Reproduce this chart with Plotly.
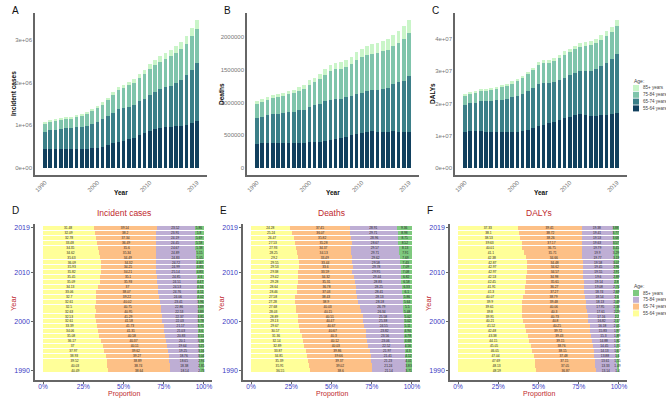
import plotly.graph_objects as go

years = list(range(1990, 2020))
ages = ["55-64 years", "65-74 years", "75-84 years", "85+ years"]

# totals
total_inc = [1.08, 1.12, 1.14, 1.16, 1.20, 1.20, 1.24, 1.27, 1.31, 1.38, 1.46, 1.54, 1.65, 1.77, 1.89,
             1.95, 2.02, 2.09, 2.20, 2.30, 2.43, 2.54, 2.62, 2.69, 2.76, 2.85, 2.95, 3.09, 3.28, 3.47]  # 1e6
total_dea = [1.02, 1.05, 1.08, 1.11, 1.13, 1.15, 1.18, 1.20, 1.24, 1.27, 1.34, 1.38, 1.44, 1.51, 1.57,
             1.61, 1.62, 1.65, 1.70, 1.77, 1.82, 1.86, 1.89, 1.91, 1.94, 1.97, 2.04, 2.10, 2.17, 2.27]  # 1e6
total_daly = [2.29, 2.35, 2.39, 2.44, 2.45, 2.47, 2.52, 2.56, 2.60, 2.68, 2.77, 2.86, 2.98, 3.10, 3.27,
              3.33, 3.34, 3.40, 3.49, 3.61, 3.70, 3.79, 3.87, 3.89, 3.93, 4.00, 4.11, 4.23, 4.38, 4.59]  # 1e7

# age shares (%)
inc_5564 = [40.49, 40.03, 39.52, 38.93, 37.97, 37.0, 36.17, 35.08, 34.06, 33.39, 32.61, 32.53, 32.63, 32.5, 32.61,
            32.7, 33.06, 34.13, 35.09, 35.45, 35.82, 35.93, 36.09, 35.63, 34.62, 34.35, 33.48, 32.78, 32.09, 31.48]
inc_6574 = [38.64, 38.74, 38.89, 39.27, 39.62, 40.11, 40.37, 40.58, 41.31, 41.73, 41.58, 41.29, 40.95, 40.75, 40.02,
            39.22, 38.07, 37.0, 35.93, 35.1, 34.21, 34.25, 34.32, 34.49, 35.34, 35.6, 36.49, 37.34, 38.2, 39.14]
inc_7584 = [18.14, 18.38, 18.65, 18.76, 19.25, 19.64, 20.1, 20.83, 21.03, 21.17, 22.03, 22.37, 22.53, 22.86, 23.41,
            24.06, 24.76, 24.53, 24.51, 24.85, 25.14, 24.99, 24.72, 24.83, 24.89, 24.67, 24.45, 24.19, 23.91, 23.52]
inc_85 = [2.73, 2.85, 2.94, 3.04, 3.16, 3.25, 3.36, 3.51, 3.6, 3.71, 3.78, 3.81, 3.89, 3.89, 3.96,
          4.02, 4.11, 4.34, 4.47, 4.6, 4.83, 4.83, 4.87, 5.05, 5.15, 5.38, 5.58, 5.69, 5.8, 5.86]

dea_5564 = [36.55, 35.91, 35.39, 34.81, 33.87, 32.89, 32.14, 31.36, 30.57, 29.67, 29.13, 28.89, 28.03, 27.68, 27.28,
            27.58, 28.46, 28.64, 29.28, 29.42, 29.38, 29.53, 29.55, 29.2, 28.25, 27.93, 27.53, 26.47, 25.24, 24.28]
dea_6574 = [38.6, 39.02, 39.37, 39.66, 39.86, 40.03, 40.12, 40.3, 40.67, 40.67, 40.47, 40.51, 40.15, 40.03, 38.9,
            38.43, 37.03, 36.78, 35.31, 34.32, 33.59, 33.6, 33.44, 33.49, 34.13, 34.37, 35.28, 35.82, 36.07, 37.45]
dea_7584 = [21.14, 21.24, 21.23, 21.41, 21.97, 22.52, 23.06, 23.56, 23.82, 24.55, 25.38, 25.58, 26.34, 26.79, 28.18,
            28.13, 28.41, 28.25, 28.83, 29.44, 29.95, 29.78, 29.58, 29.62, 29.71, 29.57, 28.67, 28.96, 29.71, 28.91]
dea_85 = [3.71, 3.83, 4.01, 4.12, 4.3, 4.56, 4.68, 4.78, 4.94, 5.11, 5.02, 5.02, 5.48, 5.5, 5.64,
          5.86, 6.1, 6.33, 6.58, 6.82, 7.08, 7.09, 7.43, 7.69, 7.91, 8.13, 8.52, 8.75, 8.98, 9.36]

daly_5564 = [48.59, 48.13, 47.69, 47.04, 46.05, 45.05, 44.15, 43.38, 42.48, 41.52, 40.21, 39.91, 39.8, 39.61, 39.9,
             40.07, 41.3, 41.91, 42.45, 42.53, 42.97, 42.97, 42.87, 42.38, 41.1, 40.01, 39.63, 38.53, 38.1, 37.33]
daly_6574 = [36.87, 37.05, 37.15, 37.48, 38.15, 38.76, 39.15, 39.43, 39.72, 40.25, 40.8, 40.73, 40.3, 40.06, 39.48,
             38.79, 37.27, 36.27, 35.61, 34.98, 34.57, 34.62, 34.48, 34.66, 35.71, 36.75, 37.17, 38.26, 38.72, 39.41]
daly_7584 = [13.14, 13.33, 13.61, 13.88, 14.13, 14.45, 14.88, 15.3, 15.83, 16.18, 16.82, 17.16, 17.61, 17.95, 18.13,
             18.54, 18.74, 19.08, 19.14, 19.6, 19.55, 19.45, 19.58, 19.77, 19.9, 19.79, 19.63, 19.53, 19.41, 19.38]
daly_85 = [1.4, 1.49, 1.55, 1.6, 1.67, 1.74, 1.82, 1.89, 1.97, 2.05, 2.17, 2.2, 2.29, 2.38, 2.49,
           2.6, 2.69, 2.74, 2.8, 2.89, 2.91, 2.96, 3.07, 3.19, 3.29, 3.45, 3.57, 3.68, 3.77, 3.88]

top_colors = ["#11405e", "#3b7f88", "#7fc4ab", "#c9f5c8"]
bot_colors = ["#ffff99", "#fdc086", "#beaed4", "#7fc97f"]

measures = [
    ("Incident cases", total_inc, 1e6, [inc_5564, inc_6574, inc_7584, inc_85]),
    ("Deaths", total_dea, 1e6, [dea_5564, dea_6574, dea_7584, dea_85]),
    ("DALYs", total_daly, 1e7, [daly_5564, daly_6574, daly_7584, daly_85]),
]

W, H = 666, 400
FONT = "Liberation Sans, Arial, sans-serif"
BLUE = "#3a3ac4"
RED = "#c0282d"


def px(x):
    return x / W


def py(y):
    return 1 - y / H


def fmt(v):
    return ("%.2f" % v).rstrip("0").rstrip(".")


def note(text, x, y, size, color="#111", angle=0, anchor="center"):
    fig.add_annotation(text=text, x=px(x), y=py(y), xref="paper", yref="paper", showarrow=False,
                       textangle=angle, xanchor=anchor, yanchor="middle",
                       font=dict(size=size, color=color, family=FONT))


fig = go.Figure()

# pixel boxes (left, right) of the panels
top_box = [(35, 207), (247, 419), (455, 627)]
bot_box = [(35, 212), (243, 420), (450, 627)]
top_yrng = [(-0.164e6, 3.63e6), (-0.107e6, 2.37e6), (-0.217e7, 4.8e7)]
top_ticks = [([0, 1e6, 2e6, 3e6], ["0e+00", "1e+06", "2e+06", "3e+06"]),
             ([0, 5e5, 1e6, 1.5e6, 2e6], ["0", "500000", "1000000", "1500000", "2000000"]),
             ([0, 1e7, 2e7, 3e7, 4e7], ["0e+00", "1e+07", "2e+07", "3e+07", "4e+07"])]
ytitle_x = [13, 221, 432]
letters_top = ["A", "B", "C"]
letters_bot = ["D", "E", "F"]

axis_line = dict(showline=True, linecolor="#666", linewidth=1.5, showgrid=False, zeroline=False)

for i, (name, totals, unit, shares) in enumerate(measures):
    n_top = i + 1
    n_bot = i + 4
    sums = [sum(s[k] for s in shares) for k in range(len(years))]
    # top: stacked counts
    for j in range(4):
        vals = [totals[k] * unit * shares[j][k] / sums[k] for k in range(len(years))]
        fig.add_trace(go.Bar(
            x=years, y=vals, width=0.7, marker=dict(color=top_colors[j], line=dict(width=0)),
            name=ages[j], showlegend=False, xaxis="x%d" % n_top, yaxis="y%d" % n_top,
            hoverinfo="skip"))
    # bottom: proportions
    for j in range(4):
        fr = [shares[j][k] / sums[k] for k in range(len(years))]
        fig.add_trace(go.Bar(
            y=years, x=fr, orientation="h", width=0.82,
            marker=dict(color=bot_colors[j], line=dict(width=0)),
            text=[fmt(v) for v in shares[j]], textposition="inside", insidetextanchor="middle",
            textangle=0, textfont=dict(size=4, color="#222", family=FONT),
            name=ages[j], showlegend=False, xaxis="x%d" % n_bot, yaxis="y%d" % n_bot,
            hoverinfo="skip"))

    l, r = top_box[i]
    fig.layout["xaxis%d" % n_top] = dict(
        domain=[px(l), px(r)], anchor="y%d" % n_top, range=[1988.1, 2020.9],
        tickvals=[1990, 2000, 2010, 2019], tickangle=-45,
        tickfont=dict(size=6, color="#777", family=FONT), ticks="", **axis_line)
    fig.layout["yaxis%d" % n_top] = dict(
        domain=[py(175), py(13)], anchor="x%d" % n_top, range=list(top_yrng[i]),
        tickvals=top_ticks[i][0], ticktext=top_ticks[i][1],
        tickfont=dict(size=6, color="#777", family=FONT), ticks="", **axis_line)
    note("<b>Year</b>", (l + r) / 2, 193, 6.5)
    note("<b>%s</b>" % name, ytitle_x[i], 94, 6.5, angle=-90)
    note(letters_top[i], l - 25, 10, 10, anchor="left")

    l, r = bot_box[i]
    fig.layout["xaxis%d" % n_bot] = dict(
        domain=[px(l), px(r)], anchor="y%d" % n_bot, range=[-0.05, 1.05],
        tickvals=[0, 0.25, 0.5, 0.75, 1], ticktext=["0%", "25%", "50%", "75%", "100%"],
        tickfont=dict(size=6.5, color=BLUE, family=FONT), ticks="outside", ticklen=2, tickcolor="#666",
        ticklabelstandoff=-3, **axis_line)
    fig.layout["yaxis%d" % n_bot] = dict(
        domain=[py(380), py(224)], anchor="x%d" % n_bot, range=[1988.05, 2019.8],
        tickvals=[1990, 2000, 2010, 2019],
        tickfont=dict(size=7, color=BLUE, family=FONT), ticks="outside", ticklen=2, tickcolor="#666",
        **axis_line)
    note(name, (l + r) / 2, 213, 8.5, RED)
    note("Proportion", (l + r) / 2, 393.5, 7, RED)
    note("Year", l - 22, 303, 7.5, RED, angle=-90)
    note(letters_bot[i], l - 25, 210, 10, anchor="left")

# legends drawn by hand (small keys as in the reference)
for y0, cols in ((81, top_colors), (286, bot_colors)):
    note("Age:", 632, y0, 5, "#444", anchor="left")
    for j in range(4):
        yc = y0 + 7 + 6.8 * j
        fig.add_shape(type="rect", xref="paper", yref="paper",
                      x0=px(633), x1=px(639), y0=py(yc + 3), y1=py(yc - 3),
                      fillcolor=cols[3 - j], line=dict(width=0))
        note(ages[3 - j], 641, yc, 4.5, "#444", anchor="left")

fig.update_layout(
    width=W, height=H, margin=dict(l=0, r=0, t=0, b=0),
    paper_bgcolor="white", plot_bgcolor="white", barmode="stack",
    font=dict(family=FONT), showlegend=False,
    uniformtext=dict(minsize=3, mode="show"),
)

fig.write_html("out.html", config={"displayModeBar": False},
               post_script="document.body.style.margin='0';document.body.style.overflow='hidden';")
